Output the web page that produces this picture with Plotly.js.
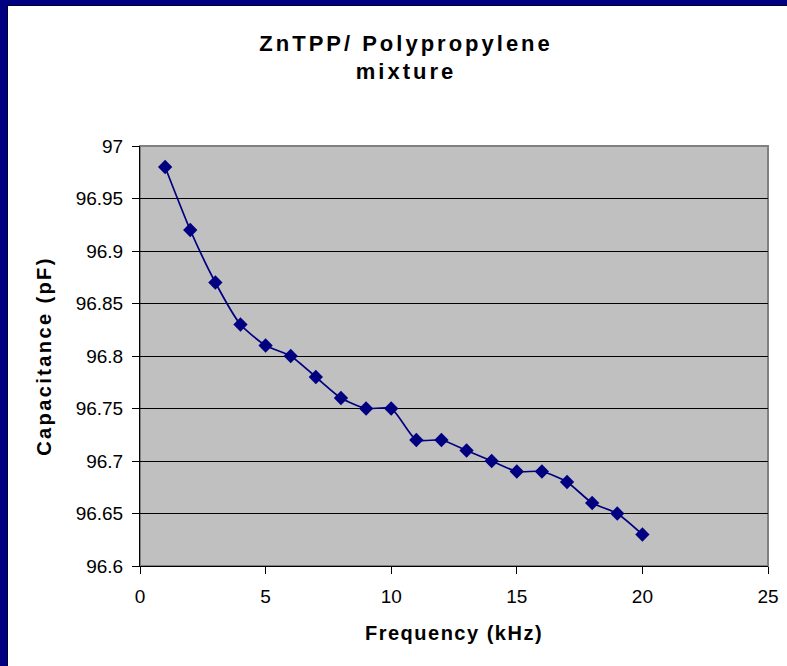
<!DOCTYPE html>
<html>
<head>
<meta charset="utf-8">
<script src="https://cdn.plot.ly/plotly-3.0.1.min.js"></script>
<style>
html,body{margin:0;padding:0;background:#000080;width:787px;height:666px;overflow:hidden;}
#wrap{position:absolute;left:7px;top:5px;width:780px;height:661px;background:#fff;border-top:1px solid #000030;border-left:1px solid #000030;box-sizing:border-box;}
#chart{width:779px;height:660px;}
#chart .gtitle{letter-spacing:3px;}
#chart .xtitle{letter-spacing:1.5px;}
#chart .ytitle{letter-spacing:2.4px;}
</style>
</head>
<body>
<div id="wrap"><div id="chart"></div></div>
<script>
const frequency = [1,2,3,4,5,6,7,8,9,10,11,12,13,14,15,16,17,18,19,20];
const capacitance = [96.98,96.92,96.87,96.83,96.81,96.80,96.78,96.76,96.75,96.75,96.72,96.72,96.71,96.70,96.69,96.69,96.68,96.66,96.65,96.63];
const xTicks = [0,5,10,15,20,25];
const yTicks = [96.6,96.65,96.7,96.75,96.8,96.85,96.9,96.95,97];
const yTickText = ['96.6','96.65','96.7','96.75','96.8','96.85','96.9','96.95','97'];

const font = 'Arial, "Liberation Sans", sans-serif';
Plotly.newPlot('chart', [{
  x: frequency, y: capacitance, type: 'scatter', mode: 'lines+markers',
  line: {color: '#000080', width: 1.7, shape: 'spline', smoothing: 0.6},
  marker: {symbol: 'diamond', size: 11, color: '#000080'},
  hoverinfo: 'skip'
}], {
  width: 779, height: 660,
  margin: {l: 132, r: 19, t: 140, b: 100},
  paper_bgcolor: '#ffffff', plot_bgcolor: '#c0c0c0',
  showlegend: false,
  font: {family: font, size: 19, color: '#000'},
  title: {text: '<b>ZnTPP/ Polypropylene<br>mixture</b>', x: 0.511, xanchor: 'center', y: 0.932, yanchor: 'top', font: {family: font, size: 22, color: '#000'}},
  xaxis: {
    range: [0, 25], tickvals: xTicks, ticktext: xTicks.map(String),
    showgrid: false, zeroline: false, showline: true, linecolor: '#000', linewidth: 1,
    ticks: 'outside', ticklen: 7, tickcolor: '#000', mirror: false,
    ticklabelstandoff: 6,
    tickfont: {family: font, size: 19},
    title: {text: '<b>Frequency (kHz)</b>', font: {family: font, size: 20}, standoff: 20}
  },
  yaxis: {
    range: [96.6, 97], tickvals: yTicks, ticktext: yTickText,
    showgrid: true, gridcolor: '#000', gridwidth: 1, zeroline: false,
    showline: true, linecolor: '#000', linewidth: 1,
    ticks: 'outside', ticklen: 7, tickcolor: '#000',
    ticklabelstandoff: 5,
    tickfont: {family: font, size: 19},
    title: {text: '<b>Capacitance (pF)</b>', font: {family: font, size: 20}, standoff: 18}
  },
  shapes: [{type: 'rect', xref: 'paper', yref: 'paper', x0: 0, x1: 1, y0: 0, y1: 1, line: {color: '#808080', width: 2}, layer: 'below'}]
}, {displayModeBar: false, staticPlot: true});
</script>
</body>
</html>
